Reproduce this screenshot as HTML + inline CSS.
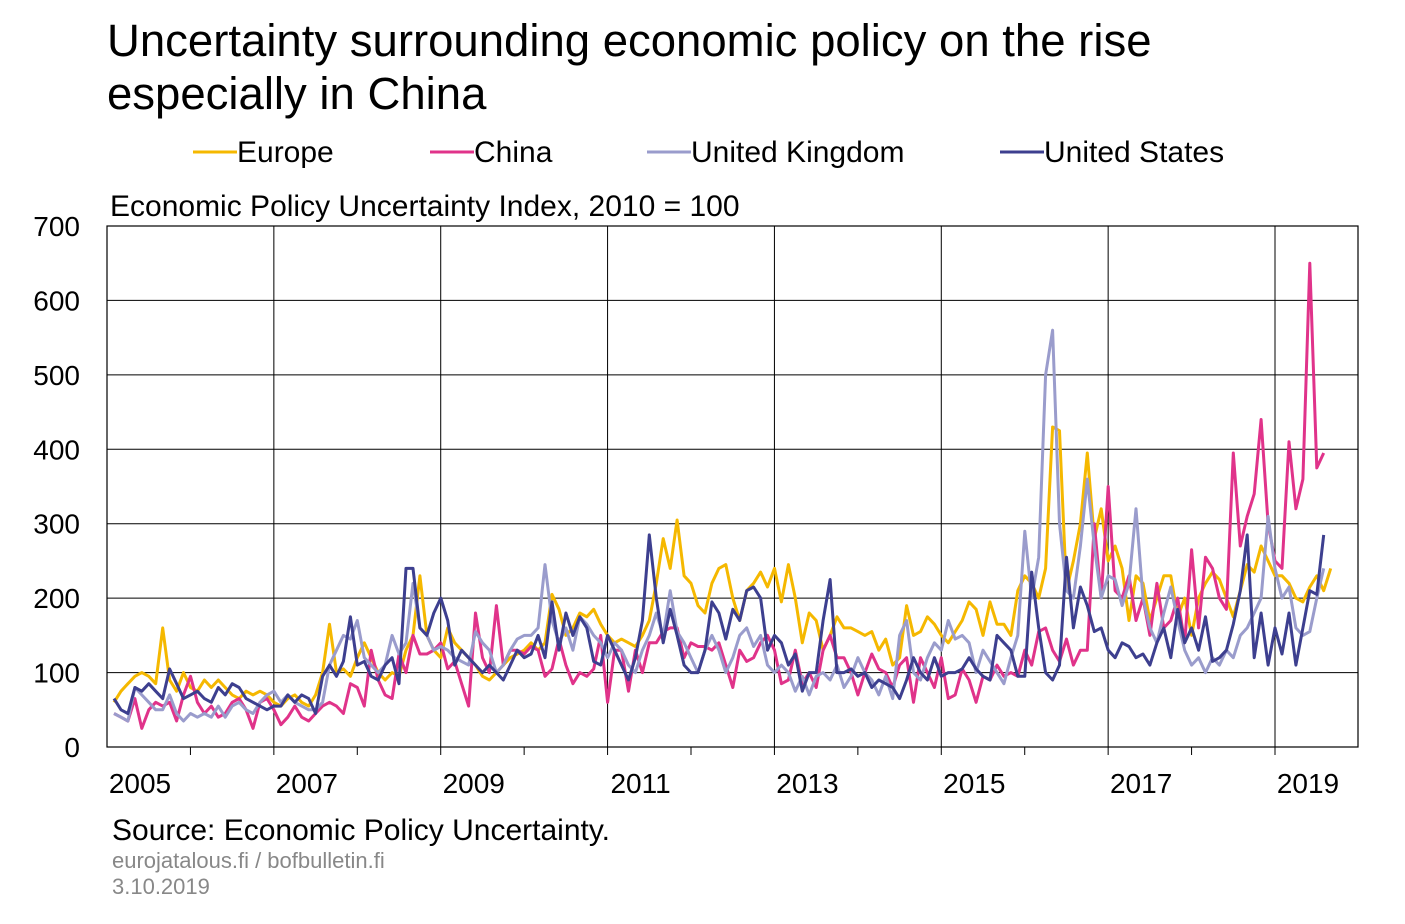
<!DOCTYPE html>
<html><head><meta charset="utf-8"><style>
body{margin:0;background:#fff;width:1405px;height:919px;overflow:hidden;font-family:"Liberation Sans",Arial,sans-serif}
</style></head><body>
<svg width="1405" height="919" xmlns="http://www.w3.org/2000/svg" font-family="Liberation Sans, Arial, sans-serif">
<text x="107" y="56" font-size="45.5" fill="#000">Uncertainty surrounding economic policy on the rise</text>
<text x="107" y="109" font-size="45.5" fill="#000">especially in China</text>
<g id="legend"></g>
<text x="110" y="216" font-size="30">Economic Policy Uncertainty Index, 2010 = 100</text>
<g id="grid"></g>
<g id="series"></g>
<rect x="107" y="226" width="1251" height="521" fill="none" stroke="#000" stroke-width="1.2"/>
<text x="112" y="840" font-size="30">Source: Economic Policy Uncertainty.</text>
<text x="112" y="868" font-size="22" fill="#888">eurojatalous.fi  / bofbulletin.fi</text>
<text x="112" y="894" font-size="22" fill="#888">3.10.2019</text>
</svg>
<script>
const yTicks=[0,100,200,300,400,500,600,700];
const years=[2005,2007,2009,2011,2013,2015,2017,2019];
const seriesNames=["Europe","China","United Kingdom","United States"];
const seriesColors=["#f5b800","#e0338a","#9a9ccc","#3d3f8f"];
const europe=[60,75,85,95,100,95,85,160,90,75,100,80,75,90,80,90,80,70,65,75,70,75,70,60,55,65,70,60,55,70,100,165,100,105,95,120,140,120,100,90,100,95,130,150,230,150,130,120,160,140,130,120,110,95,90,100,110,120,125,130,140,130,140,205,185,150,160,180,175,185,165,150,140,145,140,135,150,170,220,280,240,305,230,220,190,180,220,240,245,200,170,210,220,235,215,240,195,245,200,140,180,170,130,150,175,160,160,155,150,155,130,145,110,120,190,150,155,175,165,150,140,155,170,195,185,150,195,165,165,150,210,230,220,200,240,430,425,210,250,300,395,280,320,250,270,240,170,230,220,170,200,230,230,175,200,150,200,220,235,225,200,175,210,245,235,270,250,230,230,220,200,195,215,230,210,240];
const china=[45,40,35,65,25,50,60,55,60,35,70,95,60,45,55,40,45,60,65,50,25,60,65,50,30,40,55,40,35,45,55,60,55,45,85,80,55,130,90,70,65,125,100,150,125,125,130,140,105,115,85,55,180,120,100,190,110,130,130,125,135,130,95,105,145,110,85,100,95,105,150,60,130,130,75,130,100,140,140,155,160,160,120,140,135,135,130,140,110,80,130,115,120,140,150,130,85,90,130,85,100,80,130,150,120,120,100,70,100,125,105,100,80,110,120,60,120,100,80,120,65,70,105,90,60,95,90,110,95,100,95,130,110,155,160,130,115,145,110,130,130,300,200,350,210,200,230,170,200,150,220,160,170,200,140,265,160,255,240,200,185,395,270,310,340,440,300,250,240,410,320,360,650,375,395];
const uk=[45,40,35,80,70,60,50,50,70,45,35,45,40,45,40,55,40,55,60,50,45,60,70,75,60,70,60,55,50,50,60,110,130,150,145,170,120,110,100,110,150,125,140,220,160,150,130,135,130,120,115,110,155,140,130,100,110,130,145,150,150,160,245,170,140,160,130,175,165,150,140,120,140,130,110,100,130,150,180,150,210,155,140,120,100,130,150,130,100,120,150,160,135,150,110,100,110,100,75,95,70,95,100,90,110,80,95,120,100,90,70,95,65,150,170,100,90,120,140,130,170,145,150,140,100,130,115,100,85,120,150,290,200,255,500,560,300,210,200,270,360,270,200,230,225,190,220,320,200,160,140,180,215,170,130,110,120,100,120,110,130,120,150,160,180,200,310,240,200,215,160,150,155,200,240];
const us=[65,50,45,80,75,85,75,65,105,85,65,70,75,65,60,80,70,85,80,65,60,55,50,55,55,70,60,70,65,45,95,110,95,115,175,110,115,95,90,110,120,85,240,240,160,150,180,200,170,110,130,120,110,100,110,100,90,110,130,120,125,150,120,195,130,180,150,175,160,115,110,150,130,110,90,120,170,285,200,140,185,150,110,100,100,130,195,180,145,185,170,210,215,200,130,150,140,110,125,75,100,100,170,225,100,100,105,95,100,80,90,85,80,65,90,120,100,90,120,95,100,100,105,120,105,95,90,150,140,130,95,95,235,160,100,90,110,255,160,215,190,155,160,130,120,140,135,120,125,110,140,160,120,185,140,160,130,175,115,120,130,165,210,285,120,180,110,160,125,180,110,160,210,205,285];
const allSeries=[europe,china,uk,us];
const NS="http://www.w3.org/2000/svg";
const x0=107,x1=1358,y0=747,y1=226;
const monthW=(1275-107)/168;
function xScale(i){return 114+i*monthW;}
function yScale(v){return y0-(v/700)*(y0-y1);}
function mk(tag,attrs,parent){const e=document.createElementNS(NS,tag);for(const k in attrs)e.setAttribute(k,attrs[k]);parent.appendChild(e);return e;}
const grid=document.getElementById('grid');
yTicks.forEach(t=>{
  const y=yScale(t);
  if(t>0&&t<700){const l=mk('line',{x1:x0,x2:x1,y1:y,y2:y,stroke:'#000','stroke-width':1},grid);
  
  }
  const tx=mk('text',{x:80,y:y+10,'font-size':28,'text-anchor':'end'},grid);
  tx.textContent=t;
  
  
});
years.forEach((yr,k)=>{
  const gx=x0+k*24*monthW;
  if(k>0){const l=mk('line',{x1:gx,x2:gx,y1:y1,y2:y0+8,stroke:'#000','stroke-width':1},grid);
  
  }
  const mx=gx+12*monthW;
  if(mx<x1){const m=mk('line',{x1:mx,x2:mx,y1:y0,y2:y0+8,stroke:'#000','stroke-width':1},grid);
  
  }
  const tx=mk('text',{x:gx+33,y:793,'font-size':28,'text-anchor':'middle'},grid);
  tx.textContent=yr;
  
  
});
const sg=document.getElementById('series');
allSeries.forEach((arr,s)=>{
  const pts=arr.map((v,i)=>xScale(i).toFixed(1)+','+yScale(v).toFixed(1)).join(' ');
  const p=mk('polyline',{points:pts,fill:'none',stroke:seriesColors[s],'stroke-width':3,'stroke-linejoin':'round'},sg);
  
  
});
const lg=document.getElementById('legend');
const lx=[193,430,647,1000];
seriesNames.forEach((n,s)=>{
  const l=mk('line',{x1:lx[s],x2:lx[s]+44,y1:152,y2:152,stroke:seriesColors[s],'stroke-width':3},lg);
  
  
  const t=mk('text',{x:lx[s]+44,y:162,'font-size':30},lg);
  t.textContent=n;
  
  
});
</script>
</body></html>
